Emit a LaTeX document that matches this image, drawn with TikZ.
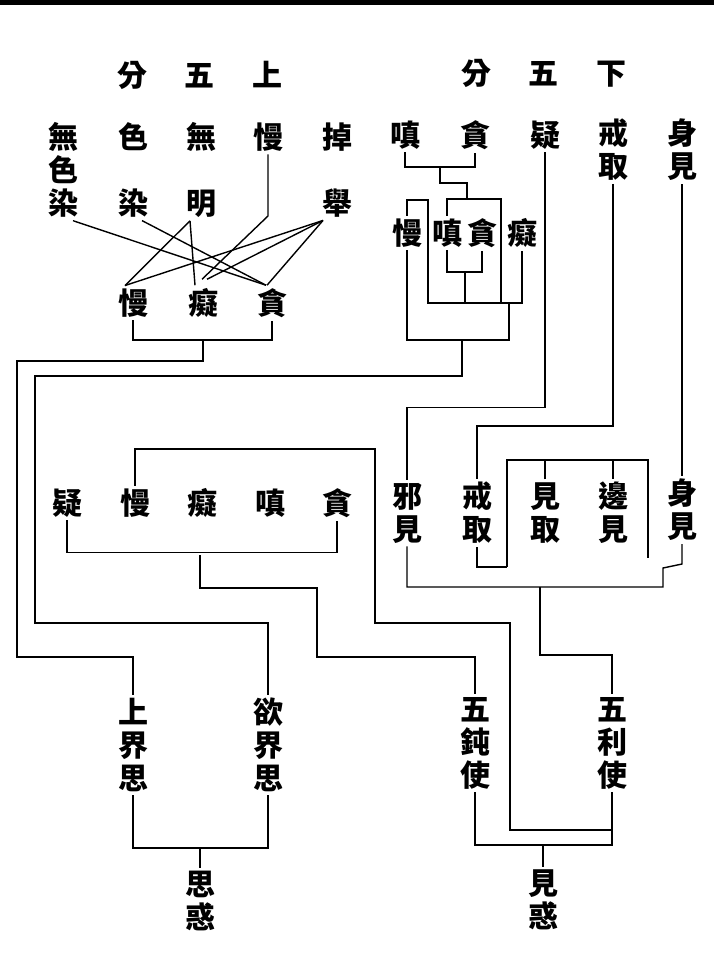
\documentclass[tikz,border=0pt]{standalone}
\usepackage{fontspec}
\newfontfamily\cjk{Noto Sans CJK TC}
\usetikzlibrary{calc}

\begin{document}
\begin{tikzpicture}[x=1pt, y=-1pt,
  glyph/.style={font=\cjk\bfseries\fontsize{30}{33}\selectfont, align=center, inner sep=3pt},
  wire/.style={line width=1.4pt}]
  \useasboundingbox (0,0) rectangle (714,963);

  % Top rule
  \fill (0,0) rectangle (714,5);

  % Headings
  \node[glyph] (shangfen) at (200,75) {分\hspace{38pt}五\hspace{38pt}上};
  \node[glyph] (xiafen) at (544,73) {分\hspace{38pt}五\hspace{38pt}下};

  % Upper five fetters (left) and lower five fetters (right)
  \node[glyph] (wuse) at (63,170) {無\\色\\染};
  \node[glyph] (serran) at (133,170) {色\\\\染};
  \node[glyph] (wuming) at (201,170) {無\\\\明};
  \node[glyph] (man1) at (268,137) {慢};
  \node[glyph] (diaoju) at (337,170) {掉\\\\舉};
  \node[glyph] (chen1) at (405,135) {嗔};
  \node[glyph] (tan1) at (475,135) {貪};
  \node[glyph] (yi1) at (545,135) {疑};
  \node[glyph] (jiequ1) at (613,150) {戒\\取};
  \node[glyph] (shenjian1) at (682,150) {身\\見};

  % Roots of the upper group
  \node[glyph] (man2) at (133,303) {慢};
  \node[glyph] (chi2) at (203,303) {癡};
  \node[glyph] (tan2) at (272,303) {貪};

  % Lower group: inner box
  \node[glyph] (man3) at (407,233) {慢};
  \node[glyph] (chen3) at (447,233) {嗔};
  \node[glyph] (tan3) at (482,233) {貪};
  \node[glyph] (chi3) at (522,233) {癡};

  % Middle row: five dull and five sharp
  \node[glyph] (yi4) at (67,503) {疑};
  \node[glyph] (man4) at (135,503) {慢};
  \node[glyph] (chi4) at (202,503) {癡};
  \node[glyph] (chen4) at (270,503) {嗔};
  \node[glyph] (tan4) at (337,503) {貪};
  \node[glyph] (xiejian) at (407,513) {邪\\見};
  \node[glyph] (jiequ4) at (477,513) {戒\\取};
  \node[glyph] (jianqu) at (545,513) {見\\取};
  \node[glyph] (bianjian) at (613,513) {邊\\見};
  \node[glyph] (shenjian4) at (682,510) {身\\見};

  % Bottom: the two kinds of delusion
  \node[glyph] (shangjie) at (133,745) {上\\界\\思};
  \node[glyph] (yujie) at (268,745) {欲\\界\\思};
  \node[glyph] (wudun) at (475,743) {五\\鈍\\使};
  \node[glyph] (wuli) at (612,743) {五\\利\\使};
  \node[glyph] (sihuo) at (200,901) {思\\惑};
  \node[glyph] (jianhuo) at (543,900) {見\\惑};

  % Crossing lines into the three roots
  \draw[wire] ([xshift=10pt]wuse.south) -- ([xshift=-6pt]tan2.north);
  \draw[wire] ([xshift=9pt]serran.south) -- ([xshift=-6pt]tan2.north);
  \draw[wire] ([xshift=-11pt]wuming.south) -- ([xshift=-8pt]man2.north);
  \draw[wire] ([xshift=-11pt]wuming.south) -- ([xshift=-8pt]chi2.north);
  \draw[wire] (man1.south) -- (268,216) -- ([xshift=-1pt, yshift=6pt]chi2.north);
  \draw[wire] ([xshift=-14pt]diaoju.south) -- ([xshift=-8pt]man2.north);
  \draw[wire] ([xshift=-14pt]diaoju.south) -- ([xshift=4pt, yshift=6pt]chi2.north);
  \draw[wire] ([xshift=-14pt]diaoju.south) -- ([xshift=-5pt]tan2.north);

  % Upper group down to the upper realm
  \draw[wire] (man2.south) |- (272,340) -- (tan2.south);
  \draw[wire] (203,340) |- (17,361) |- (133,657) -- (shangjie.north);

  % Lower group down to the desire realm
  \draw[wire] (chen1.south) |- (475,167) -- (tan1.south);
  \draw[wire] (440,167) -- (440,183) -- (467,183) -- (467,199);
  \draw[wire] (chen3.north) |- (501,199) -- (501,303);
  \draw[wire] (man3.north) |- (428,200) -- (428,303) -| (chi3.south);
  \draw[wire] (chen3.south) |- (482,272) -- (tan3.south);
  \draw[wire] (465,272) -- (465,303);
  \draw[wire] (man3.south) |- (509,340) -- (509,303);
  \draw[wire] (462,340) |- (35,376) |- (268,623) -- (yujie.north);

  % Views: five sharp
  \draw[wire] (yi1.south) |- ([yshift=72pt]xiejian.north) -- (xiejian.north);
  \draw[wire] (jiequ1.south) |- ([yshift=53pt]jiequ4.north) -- (jiequ4.north);
  \draw[wire] (shenjian1.south) -- (shenjian4.north);
  \draw[wire] (507,567) -- (507,460) -- (648,460) -- (648,558);
  \draw[wire] (jianqu.north) -- (545,460);
  \draw[wire] (bianjian.north) -- (613,460);
  \draw[wire] (jiequ4.south) |- (507,567);
  \draw[wire] (xiejian.south) |- (663,587) -- (663,568) -- (682,564) -- (shenjian4.south);
  \draw[wire] (540,587) |- (612,655) -- (wuli.north);

  % Five dull
  \draw[wire] (yi4.south) |- ([yshift=-32pt]tan4.south) -- (tan4.south);
  \draw[wire] (200,555) |- (317,588) |- (475,657) -- (wudun.north);
  \draw[wire] (man4.north) |- (375,449) |- (510,623) |- (612,830);

  % Bottom brackets
  \draw[wire] (shangjie.south) |- (268,848) -- (yujie.south);
  \draw[wire] (200,848) -- (sihuo.north);
  \draw[wire] (wudun.south) |- (612,845) -- (wuli.south);
  \draw[wire] (543,845) -- (jianhuo.north);
\end{tikzpicture}
\end{document}
